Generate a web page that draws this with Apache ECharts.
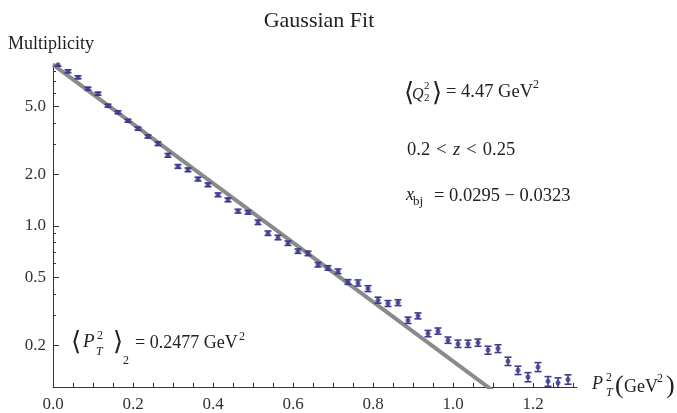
<!DOCTYPE html>
<html>
<head>
<meta charset="utf-8">
<script src="https://cdn.jsdelivr.net/npm/echarts@6/dist/echarts.min.js"></script>
<style>
html,body{margin:0;padding:0;background:#fff;}
#c{width:677px;height:413px;}
</style>
</head>
<body>
<div id="c"></div>
<script>
// ---- data ----
var ptX = [0.0125,0.0375,0.0625,0.0875,0.1125,0.1375,0.1625,0.1875,0.2125,0.2375,
           0.2625,0.2875,0.3125,0.3375,0.3625,0.3875,0.4125,0.4375,0.4625,0.4875,
           0.5125,0.5375,0.5625,0.5875,0.6125,0.6375,0.6625,0.6875,0.7125,0.7375,
           0.7625,0.7875,0.8125,0.8375,0.8625,0.8875,0.9125,0.9375,0.9625,0.9875,
           1.0125,1.0375,1.0625,1.0875,1.1125,1.1375,1.1625,1.1875,1.2125,1.2375,
           1.2625,1.2875];
var ptY = [8.80,8.05,7.42,6.36,5.95,5.06,4.63,4.13,3.71,3.34,
           3.03,2.59,2.23,2.13,1.88,1.74,1.52,1.42,1.22,1.20,
           1.05,0.906,0.855,0.792,0.711,0.690,0.592,0.567,0.542,0.469,
           0.463,0.429,0.367,0.351,0.355,0.280,0.297,0.234,0.242,0.214,
           0.204,0.204,0.207,0.187,0.191,0.161,0.1425,0.130,0.149,0.1228,
           0.1206,0.126];
var ptErr = [0.18,0.16,0.15,0.13,0.12,0.10,0.09,0.08,0.075,0.07,
             0.075,0.065,0.056,0.053,0.047,0.044,0.038,0.036,0.031,0.030,
             0.032,0.027,0.026,0.024,0.021,0.021,0.018,0.017,0.017,0.015,
             0.019,0.017,0.015,0.014,0.014,0.012,0.012,0.010,0.010,0.009,
             0.010,0.010,0.010,0.010,0.010,0.009,0.008,0.008,0.009,0.008,
             0.008,0.008];
var fitX = [0, 1.1];
var fitY = [8.8, 0.108];

var xLabels = [0.0,0.2,0.4,0.6,0.8,1.0,1.2];
var xTicks = [0.05,0.1,0.15,0.2,0.25,0.3,0.35,0.4,0.45,0.5,0.55,0.6,0.65,0.7,0.75,0.8,
              0.85,0.9,0.95,1.0,1.05,1.1,1.15,1.2,1.25,1.3];
var yMajor = [0.2,0.5,1.0,2.0,5.0];
var yMinor = [0.3,0.4,0.6,0.7,0.8,0.9,3,4,6,7,8];
var yMin = 0.1137, yMax = 8.88;
var xMin = 0, xMax = 1.31;

// ---- chart ----
var SERIF = '"Liberation Serif","DejaVu Serif",serif';
var PTCOL = '#3d3b8e';
var TXT = '#222';

var scatterData = ptX.map(function(x,i){return [x, ptY[i]];});
var errData = ptX.map(function(x,i){return [x, ptY[i], ptErr[i]];});
var fitData = fitX.map(function(x,i){return [x, fitY[i]];});

function t(x, y, s, size, extra){
  extra = extra || {};
  return {
    type:'text', x:x, y:y, silent:true, z:50,
    style:{
      text:s, fill:TXT,
      font:(extra.italic?'italic ':'') + size + 'px ' + (extra.family || SERIF),
      align:'left', verticalAlign:'middle',
      textAlign:'left', textVerticalAlign:'middle'
    }
  };
}
var BR = '"DejaVu Sans","Noto Sans",sans-serif';

var graphics = [
  t(8, 44, 'Multiplicity', 18),
  // <Q2^2> = 4.47 GeV^2
  t(404, 94, '\u27E8', 26, {family:BR}),
  t(412, 95, 'Q', 16, {italic:true}),
  t(424, 86, '2', 11),
  t(424, 98, '2', 11),
  t(432, 94, '\u27E9', 26, {family:BR}),
  t(446, 92, '= 4.47 GeV', 18.5),
  t(533, 85, '2', 12),
  // 0.2 < z < 0.25
  {type:'text', x:407, y:150, silent:true, z:50,
   style:{text:'{n|0.2\u2004<\u2004}{i|z}{n|\u2004<\u20040.25}', align:'left', verticalAlign:'middle',
          textAlign:'left', textVerticalAlign:'middle',
          rich:{n:{font:'18.5px '+SERIF, fill:TXT}, i:{font:'italic 18.5px '+SERIF, fill:TXT}}}},
  // x_bj = ...
  t(406, 195, 'x', 18, {italic:true}),
  t(413, 202, 'bj', 13),
  t(434, 196, '= 0.0295 \u2212 0.0323', 18.5),
  // <P_T^2>_2 = 0.2477 GeV^2
  t(71, 343, '\u27E8', 26, {family:BR}),
  t(83, 342, 'P', 19, {italic:true}),
  t(97, 336, '2', 12),
  t(96, 352, 'T', 12, {italic:true}),
  t(113, 343, '\u27E9', 26, {family:BR}),
  t(123, 361, '2', 12),
  t(135, 343, '= 0.2477 GeV', 18),
  t(239, 337, '2', 12),
  // axis title P_T^2 (GeV^2)
  t(592, 384, 'P', 18, {italic:true}),
  t(606, 378, '2', 12),
  t(606, 393, 'T', 12, {italic:true}),
  t(615, 386, '(', 26),
  t(624, 387, 'GeV', 18),
  t(657, 379, '2', 12),
  t(666, 386, ')', 26)
];

var chart = echarts.init(document.getElementById('c'), null, {renderer:'canvas'});
var L10 = function(v){return Math.log10(v);};

var option = {
  backgroundColor:'#fff',
  animation:false,
  title:{
    text:'Gaussian Fit', left:314, top:5, textAlign:'center',
    textStyle:{fontFamily:SERIF, fontSize:22, fontWeight:'normal', color:TXT}
  },
  grid:{left:53, right:100, top:64, bottom:26, containLabel:false, outerBoundsMode:'none'},
  xAxis:{
    type:'value', min:xMin, max:xMax,
    axisLine:{show:true, onZero:false, lineStyle:{color:'#333', width:1}},
    axisTick:{show:true, inside:true, length:4, customValues:xTicks, lineStyle:{color:'#333'}},
    axisLabel:{show:true, customValues:xLabels, margin:9, color:'#333', fontFamily:SERIF, fontSize:17,
      formatter:function(v){return v.toFixed(1);}},
    splitLine:{show:false}
  },
  yAxis:[
    {type:'log', min:yMin, max:yMax, position:'left',
     axisLine:{show:false, onZero:false}, axisTick:{show:false}, axisLabel:{show:false}, splitLine:{show:false}, minorTick:{show:false}},
    {type:'value', min:L10(yMin), max:L10(yMax), position:'left',
     axisLine:{show:true, onZero:false, lineStyle:{color:'#333', width:1}},
     axisTick:{show:true, inside:true, length:6, customValues:yMajor.map(L10), lineStyle:{color:'#333'}},
     axisLabel:{show:true, customValues:yMajor.map(L10), margin:7, color:'#333', fontFamily:SERIF, fontSize:17,
       formatter:function(v){return Math.pow(10, v).toFixed(1);}},
     splitLine:{show:false}},
    {type:'value', min:L10(yMin), max:L10(yMax), position:'left',
     axisLine:{show:false, onZero:false},
     axisTick:{show:true, inside:true, length:3, customValues:yMinor.map(L10), lineStyle:{color:'#333'}},
     axisLabel:{show:false}, splitLine:{show:false}}
  ],
  series:[
    {type:'line', name:'fit', data:fitData, yAxisIndex:0, showSymbol:false, symbol:'none',
     clip:true, lineStyle:{color:'#8a8a8a', width:4}, z:2, silent:true},
    {type:'custom', name:'err', data:errData, yAxisIndex:0, z:3, clip:true,
     renderItem:function(params, api){
       var x = api.value(0), y = api.value(1), e = api.value(2);
       var top = api.coord([x, y + e]);
       var bot = api.coord([x, y - e]);
       var hw = 3.5;
       var st = {stroke:PTCOL, lineWidth:1.6};
       return {type:'group', children:[
         {type:'line', shape:{x1:top[0], y1:top[1], x2:bot[0], y2:bot[1]}, style:st},
         {type:'line', shape:{x1:top[0]-hw, y1:top[1], x2:top[0]+hw, y2:top[1]}, style:st},
         {type:'line', shape:{x1:bot[0]-hw, y1:bot[1], x2:bot[0]+hw, y2:bot[1]}, style:st}
       ]};
     }},
    {type:'scatter', name:'data', data:scatterData, yAxisIndex:0, z:4,
     symbol:'circle', symbolSize:5, itemStyle:{color:PTCOL}, silent:true}
  ],
  graphic:graphics
};
chart.setOption(option);
</script>
</body>
</html>
